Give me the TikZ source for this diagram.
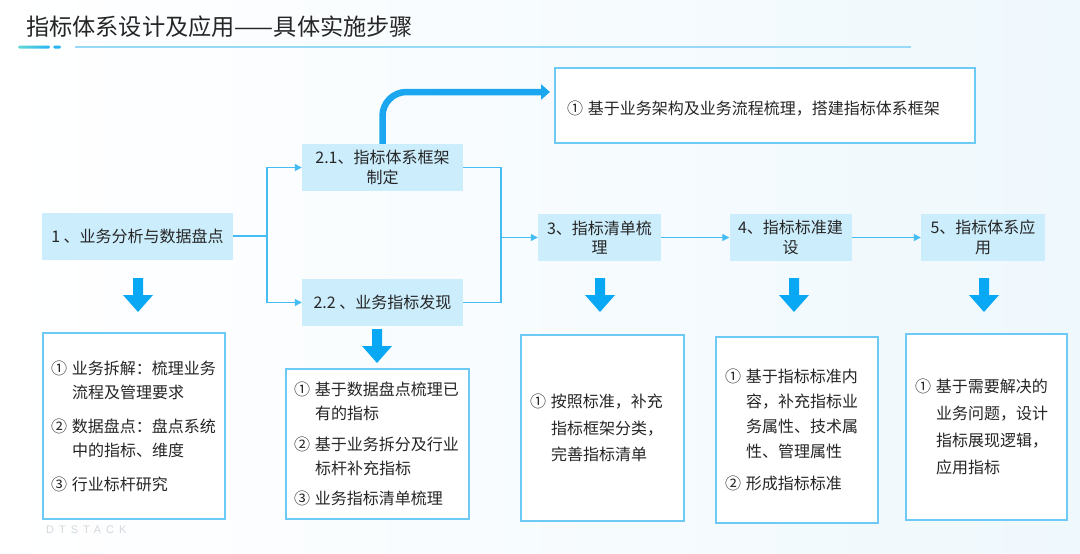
\documentclass[tikz,border=0pt]{standalone}
\usepackage{fontspec}
\setmainfont{Noto Sans CJK SC}
\newfontfamily\wmfont{Liberation Sans}[LetterSpace=45]
\usetikzlibrary{arrows.meta}
\definecolor{boxfill}{RGB}{204,237,252}
\definecolor{bordblue}{RGB}{108,202,245}
\definecolor{connblue}{RGB}{70,188,245}
\definecolor{arrowblue}{RGB}{8,168,245}
\definecolor{thickblue}{RGB}{26,167,240}
\definecolor{txt}{RGB}{38,38,38}
\definecolor{bgright}{RGB}{239,248,253}
\definecolor{lineblue}{RGB}{150,218,248}
\definecolor{gradA}{RGB}{100,216,214}
\definecolor{gradB}{RGB}{40,180,245}
\definecolor{wmgray}{RGB}{210,216,223}
\newcommand{\bxitem}[1]{\makebox[21pt][l]{#1}}
\newcommand{\bxcont}{\hspace*{21pt}}
\tikzset{
  stepbox/.style={fill=boxfill, draw=none, minimum height=47pt, inner sep=0pt,
    align=center, font=\fontsize{16}{19.5}\selectfont, text=txt},
  detail/.style={draw=bordblue, line width=1.2pt, fill=white, align=left,
    inner xsep=8pt, inner ysep=0pt, font=\fontsize{16}{#1}\selectfont, text=txt},
  detail/.default=24,
  conn/.style={draw=connblue, line width=1.3pt},
  connarrow/.style={conn, -{Triangle[length=7pt,width=7pt]}},
  blockarrow/.pic={
    \fill[arrowblue] (-5,0) -- (5,0) -- (5,17) -- (15,17) -- (0,34)
      -- (-15,17) -- (-5,17) -- cycle;
  }
}
\begin{document}
\begin{tikzpicture}[x=1pt,y=-1pt]
\useasboundingbox (0,0) rectangle (1080,554);
\shade[left color=white,right color=bgright] (0,0) rectangle (1080,554);

% title
\node[anchor=west, inner sep=0pt, font=\fontsize{23.2}{27}\selectfont, text=txt] (title) at (26,27) {指标体系设计及应用——具体实施步骤};
\shade[left color=gradA,right color=gradB, rounded corners=1.5pt] (18,45.5) rectangle (50,48.5);
\fill[gradB, rounded corners=1.5pt] (53,45.5) rectangle (61,48.5);
\fill[lineblue] (75,46) rectangle (911,48);

% step boxes
\node[stepbox, minimum width=191pt] (b1) at (137.5,236) {1 、业务分析与数据盘点};
\node[stepbox, minimum width=161pt] (b21) at (382.5,167.5) {2.1、指标体系框架\\制定};
\node[stepbox, minimum width=161pt] (b22) at (382.5,302.5) {2.2 、业务指标发现};
\node[stepbox, minimum width=123pt] (b3) at (599.5,237.5) {3、指标清单梳\\理};
\node[stepbox, minimum width=122pt] (b4) at (790.5,237.5) {4、指标标准建\\设};
\node[stepbox, minimum width=124pt] (b5) at (983,237.5) {5、指标体系应\\用};

% top detail box
\node[detail, minimum width=420pt, minimum height=75pt, text width=396pt, inner xsep=12pt] (top) at (765,105.5)
  {\raisebox{-8.5pt}[0pt][0pt]{\bxitem{①}基于业务架构及业务流程梳理，搭建指标体系框架}};

% connectors
\coordinate (j1) at (267,236);
\coordinate (j2) at (501,237.5);
\draw[conn] (b1.east) -- (j1);
\draw[connarrow] (j1) |- (b21.west);
\draw[connarrow] (j1) |- (b22.west);
\draw[conn] (b21.east) -| (j2);
\draw[conn] (b22.east) -| (j2);
\draw[connarrow] (j2) -- (b3.west);
\draw[connarrow] (b3.east) -- (b4.west);
\draw[connarrow] (b4.east) -- (b5.west);

% thick arrow
\coordinate (tipA) at (550,92);
\draw[thickblue, line width=6.5pt, rounded corners=24pt, -{Triangle[length=9pt,width=15pt]}] (b21.north) |- (tipA);

% block arrows
\pic at (138,278) {blockarrow};
\pic at (377,329) {blockarrow};
\pic at (600,278) {blockarrow};
\pic at (794,278) {blockarrow};
\pic at (984,278) {blockarrow};

% bottom detail boxes
\node[detail=24, minimum width=182pt, minimum height=186pt, text width=166pt] (d1) at (134,426)
  {\bxitem{①}业务拆解：梳理业务\\\bxcont 流程及管理要求\\[10pt]\bxitem{②}数据盘点：盘点系统\\\bxcont 中的指标、维度\\[10pt]\bxitem{③}行业标杆研究};
\node[detail=23.5, minimum width=183pt, minimum height=150pt, text width=167pt] (d2) at (377.5,444)
  {\bxitem{①}基于数据盘点梳理已\\\bxcont 有的指标\\[8pt]\bxitem{②}基于业务拆分及行业\\\bxcont 标杆补充指标\\[7pt]\bxitem{③}业务指标清单梳理};
\node[detail=26.5, minimum width=163pt, minimum height=186pt, text width=145pt, inner xsep=9pt] (d3) at (602.5,428)
  {\bxitem{①}按照标准，补充\\\bxcont 指标框架分类，\\\bxcont 完善指标清单};
\node[detail=25, minimum width=162pt, minimum height=186pt, text width=144pt, inner xsep=9pt] (d4) at (797,430)
  {\bxitem{①}基于指标标准内\\\bxcont 容，补充指标业\\\bxcont 务属性、技术属\\\bxcont 性、管理属性\\[7pt]\bxitem{②}形成指标标准};
\node[detail=27, minimum width=161pt, minimum height=186pt, text width=143pt, inner xsep=9pt] (d5) at (986.5,427)
  {\bxitem{①}基于需要解决的\\\bxcont 业务问题，设计\\\bxcont 指标展现逻辑，\\\bxcont 应用指标};

% watermark
\node[anchor=west, inner sep=0pt, font=\wmfont\fontsize{11}{13}\selectfont, text=wmgray] (wm) at (46,530) {DTSTACK};
\end{tikzpicture}
\end{document}
